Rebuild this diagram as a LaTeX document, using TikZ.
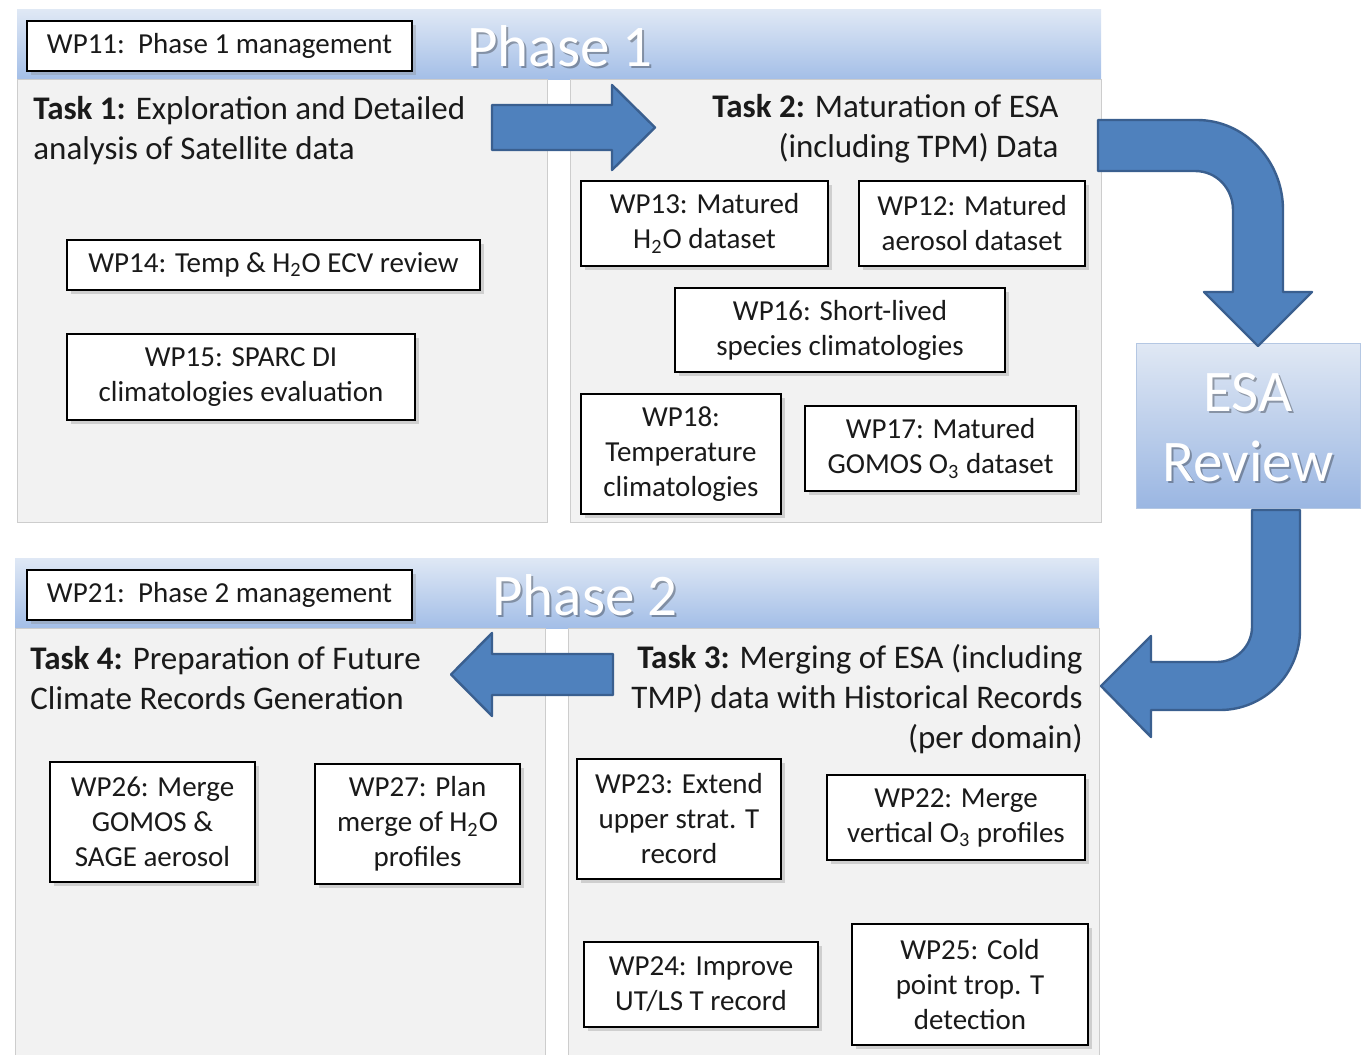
\documentclass[tikz,border=0pt]{standalone}
\usepackage{fontspec}
\setmainfont{Carlito}
\usetikzlibrary{fit,shadows}
\definecolor{arrowblue}{HTML}{4F81BD}
\definecolor{arrowedge}{HTML}{3A5F8F}
\definecolor{panelgray}{HTML}{F2F2F2}
\definecolor{paneledge}{HTML}{CDCDCD}
\definecolor{headtop}{HTML}{DFE8F5}
\definecolor{headbot}{HTML}{A3BEE7}
\definecolor{esatop}{HTML}{E0E8F4}
\definecolor{esabot}{HTML}{9AB6E2}
\definecolor{esaedge}{HTML}{B4C7E3}
\definecolor{txt}{HTML}{1A1A1A}
\begin{document}
\begin{tikzpicture}[x=0.5pt,y=-0.5pt,
 wpbox/.style={draw=black, line width=0.7pt, fill=white, inner sep=0pt,
   drop shadow={shadow xshift=2pt, shadow yshift=-2pt, opacity=0.3}},
 wptext/.style={inner sep=0pt, align=center, font=\fontsize{14.5}{17.5}\selectfont, text=txt},
 panel/.style={fill=panelgray, draw=paneledge, line width=0.5pt},
 header/.style={top color=headtop, bottom color=headbot, draw=none},
 bigarrow/.style={fill=arrowblue, draw=arrowedge, line width=1.2pt, line join=round},
 tasktext/.style={inner sep=0pt, font=\fontsize{16.5}{20}\selectfont, text=txt},
 phasetext/.style={font=\fontsize{29.5}{35}\selectfont, text=white, inner sep=0pt, align=center},
 phaseshadow/.style={phasetext, text=black, opacity=0.3}]
\useasboundingbox (0,0) rectangle (1364,1054);

% ---------- Phase 1 panel ----------
\shade[header] (17,10) rectangle (1101,80);
\path[panel] (17,80) rectangle (547,522);
\path[panel] (570,80) rectangle (1101,522);
\node[phaseshadow] at (562,48) {Phase 1};
\node[phasetext] (ph1) at (560,46) {Phase 1};

\node[wpbox, fit={(27,21) (412,71)}] (wp11) {};
\node[wptext] (wp11t) at (wp11.center) {WP11:\ \ Phase 1 management};

\node[tasktext, align=left, anchor=west] (t1) at (33,131)
  {\textbf{Task 1:} Exploration and Detailed\\analysis of Satellite data};
\node[tasktext, align=right, anchor=east] (t2) at (1059,129)
  {\textbf{Task 2:} Maturation of ESA\\(including TPM) Data};

\node[wpbox, fit={(67,240) (480,290)}] (wp14) {};
\node[wptext] (wp14t) at (wp14.center) {WP14: Temp \& H\textsubscript{2}O ECV review};
\node[wpbox, fit={(67,334) (415,420)}] (wp15) {};
\node[wptext] (wp15t) at (wp15.center) {WP15: SPARC DI\\climatologies evaluation};

\node[wpbox, fit={(581,181) (828,266)}] (wp13) {};
\node[wptext] (wp13t) at (wp13.center) {WP13: Matured\\H\textsubscript{2}O dataset};
\node[wpbox, fit={(859,181) (1085,266)}] (wp12) {};
\node[wptext] (wp12t) at (wp12.center) {WP12: Matured\\aerosol dataset};
\node[wpbox, fit={(675,288) (1005,372)}] (wp16) {};
\node[wptext] (wp16t) at (wp16.center) {WP16: Short-lived\\species climatologies};
\node[wpbox, fit={(581,394) (781,514)}] (wp18) {};
\node[wptext] (wp18t) at (wp18.center) {WP18:\\Temperature\\climatologies};
\node[wpbox, fit={(805,406) (1076,491)}] (wp17) {};
\node[wptext] (wp17t) at (wp17.center) {WP17: Matured\\GOMOS O\textsubscript{3} dataset};

% arrow Task 1 -> Task 2
\draw[bigarrow] (492,105) -- (612,105) -- (612,85) -- (655,127.5) -- (612,170) -- (612,150) -- (492,150) -- cycle;

% ---------- ESA review ----------
\node[draw=esaedge, line width=0.5pt, top color=esatop, bottom color=esabot, inner sep=0pt,
      fit={(1136,343) (1360,508)}] (esa) {};
\node[phaseshadow] at (1250,430) {ESA\\Review};
\node[phasetext] (esatxt) at (1248,428) {ESA\\Review};

% curved arrow Phase 1 -> ESA review
\draw[bigarrow] (1098,120) -- (1197,120) .. controls (1244,120) and (1283,160) .. (1283,210)
  -- (1283,292) -- (1312,292) -- (1258,346) -- (1204,292) -- (1233,292) -- (1233,210)
  .. controls (1233,189) and (1217,171) .. (1195,171) -- (1098,171) -- cycle;

% ---------- Phase 2 panel ----------
\shade[header] (15,558) rectangle (1099,628);
\path[panel] (15,628) rectangle (545,1060);
\path[panel] (568,628) rectangle (1099,1060);
\node[phaseshadow] at (587,597) {Phase 2};
\node[phasetext] (ph2) at (585,595) {Phase 2};

\node[wpbox, fit={(27,570) (412,620)}] (wp21) {};
\node[wptext] (wp21t) at (wp21.center) {WP21:\ \ Phase 2 management};

\node[tasktext, align=left, anchor=west] (t4) at (30,678)
  {\textbf{Task 4:} Preparation of Future\\Climate Records Generation};
\node[tasktext, align=right, anchor=east] (t3) at (1083,699)
  {\textbf{Task 3:} Merging of ESA (including\\TMP) data with Historical Records\\(per domain)};

\node[wpbox, fit={(50,762) (255,882)}] (wp26) {};
\node[wptext] (wp26t) at (wp26.center) {WP26: Merge\\GOMOS \&\\SAGE aerosol};
\node[wpbox, fit={(315,764) (520,884)}] (wp27) {};
\node[wptext] (wp27t) at (wp27.center) {WP27: Plan\\merge of H\textsubscript{2}O\\profiles};
\node[wpbox, fit={(577,759) (781,879)}] (wp23) {};
\node[wptext] (wp23t) at (wp23.center) {WP23: Extend\\upper strat. T\\record};
\node[wpbox, fit={(827,775) (1085,860)}] (wp22) {};
\node[wptext] (wp22t) at (wp22.center) {WP22: Merge\\vertical O\textsubscript{3} profiles};
\node[wpbox, fit={(584,942) (818,1027)}] (wp24) {};
\node[wptext] (wp24t) at (wp24.center) {WP24: Improve\\UT/LS T record};
\node[wpbox, fit={(852,924) (1088,1045)}] (wp25) {};
\node[wptext] (wp25t) at (wp25.center) {WP25: Cold\\point trop. T\\detection};

% arrow Task 3 -> Task 4
\draw[bigarrow] (613,654) -- (492,654) -- (492,633) -- (451,674.5) -- (492,716) -- (492,695) -- (613,695) -- cycle;

% curved arrow ESA review -> Phase 2
\draw[bigarrow] (1252,510) -- (1300,510) -- (1300,630) .. controls (1300,674) and (1264,710) .. (1220,710)
  -- (1151,710) -- (1151,737) -- (1101,686) -- (1151,636) -- (1151,662) -- (1217,662)
  .. controls (1236,662) and (1252,646) .. (1252,627) -- cycle;
\end{tikzpicture}
\end{document}
